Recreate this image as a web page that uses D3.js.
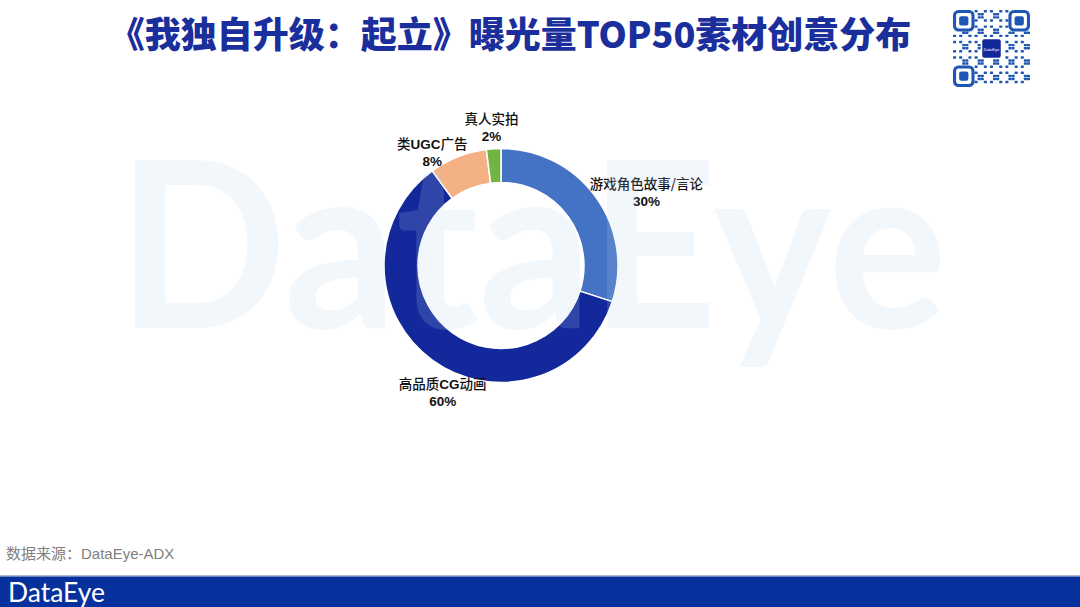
<!DOCTYPE html>
<html>
<head>
<meta charset="utf-8">
<title>曝光量TOP50素材创意分布</title>
<script src="https://cdn.jsdelivr.net/npm/d3@7/dist/d3.min.js"></script>
<style>
    body{
        margin:0;
        background:#fff;
        font-family:"Liberation Sans","Noto Sans CJK SC",sans-serif;
    }
    #chart{
        position:absolute;
        top:0px;
        left:0px;
    }
</style>
</head>
<body>
<div id="chart"></div>
<script>
    // data
    var categories = ["游戏角色故事/言论","高品质CG动画","类UGC广告","真人实拍"]
    var values = [30, 60, 8, 2]
    var colors = ["#4472c4","#13289a","#f4b183","#72b443"]
    // label nudges from the arc point (px)
    var labelShift = [[16,20],[24,12],[-21,6],[-1,-4]]
    var labelRadius = [160,140,130,136]

    var width = 1080
    var height = 607
    var svg = d3.select("#chart").append("svg").attr("width",width).attr("height",height)

    // title
    svg.append("text")
        .attr("x",510)
        .attr("y",48)
        .attr("text-anchor","middle")
        .attr("font-family","'Noto Sans CJK SC'")
        .attr("font-weight",900)
        .attr("font-size",36)
        .attr("fill","#1b2f9c")
        .text("《我独自升级：起立》曝光量TOP50素材创意分布")

    // donut
    var cx = 501, cy = 265.5
    var outerR = 117, innerR = 83
    var pie = d3.pie().sort(null).value(function(d){ return d.value })
    var data = categories.map(function(c,i){ return {name:c, value:values[i], i:i} })
    var arcs = pie(data)
    var arc = d3.arc().innerRadius(innerR).outerRadius(outerR)

    var g = svg.append("g").attr("transform","translate("+cx+","+cy+")")
    g.selectAll(".slice")
        .data(arcs)
        .enter().append("path")
        .attr("class","slice")
        .attr("d",arc)
        .attr("fill",function(d){ return colors[d.data.i] })
        .attr("stroke","#fff")
        .attr("stroke-width",1.5)

    // labels: Latin in bold, CJK lighter
    var lab = g.selectAll(".lab")
        .data(arcs)
        .enter().append("g")
        .attr("class","lab")
        .attr("transform",function(d,i){
            var a = (d.startAngle+d.endAngle)/2
            var r = labelRadius[i]
            var x = Math.sin(a)*r + labelShift[i][0]
            var y = -Math.cos(a)*r + labelShift[i][1]
            return "translate("+x+","+y+")"
        })
    lab.each(function(d){
        var t = d3.select(this).append("text")
            .attr("text-anchor","middle")
            .attr("y",-2)
            .attr("font-size",13.5)
            .attr("fill","#111")
        var parts = d.data.name.match(/[A-Za-z0-9\/]+|[^A-Za-z0-9\/]+/g)
        parts.forEach(function(p){
            var latin = /^[A-Za-z0-9]+$/.test(p)
            t.append("tspan")
                .attr("font-family", latin ? "'Liberation Sans'" : "'Noto Sans CJK SC'")
                .attr("font-weight", latin ? "bold" : 500)
                .text(p)
        })
        d3.select(this).append("text")
            .attr("text-anchor","middle")
            .attr("y",15)
            .attr("font-size",13.5)
            .attr("font-weight","bold")
            .attr("font-family","'Liberation Sans'")
            .attr("fill","#111")
            .text(d.data.value+"%")
    })

    // watermark on top
    svg.append("text")
        .attr("x",117)
        .attr("y",328)
        .attr("font-family","Lato")
        .attr("font-weight","bold")
        .attr("font-size",232)
        .attr("textLength",830)
        .attr("lengthAdjust","spacingAndGlyphs")
        .attr("fill","rgb(185,210,240)")
        .attr("opacity",0.17)
        .text("DataEye")

    // source
    svg.append("text")
        .attr("x",6)
        .attr("y",559)
        .attr("font-size",15)
        .attr("fill","#808080")
        .text("数据来源：DataEye-ADX")

    // bottom bar
    svg.append("rect").attr("x",0).attr("y",575).attr("width",width).attr("height",1.5).attr("fill","#aab6d4")
    svg.append("rect").attr("x",0).attr("y",576.5).attr("width",width).attr("height",height-576.5).attr("fill","#06309b")
    svg.append("text")
        .attr("x",8)
        .attr("y",602)
        .attr("font-family","Lato")
        .attr("font-size",27)
        .attr("textLength",97)
        .attr("lengthAdjust","spacingAndGlyphs")
        .attr("fill","#fff")
        .text("DataEye")

    // qr-like badge
    var qx = 953, qy = 10, n = 25, m = 77/25
    var qr = svg.append("g").attr("fill","#1d56b3")
    function finder(i,j){ return (i<7&&j<7)||(i<7&&j>=n-7)||(i>=n-7&&j<7) }
    for(var i=0;i<n;i++){
        for(var j=0;j<n;j++){
            if(finder(i,j)) continue
            if(i>=9&&i<=15&&j>=9&&j<=15) continue
            if(((i*7+j*13+i*j*3)%5)<2){
                qr.append("rect").attr("x",qx+j*m).attr("y",qy+i*m).attr("width",m).attr("height",m*0.8).attr("rx",0.6)
            }
        }
    }
    ;[[0,0],[0,n-7],[n-7,0]].forEach(function(p){
        var x0 = qx+p[1]*m, y0 = qy+p[0]*m
        qr.append("rect").attr("x",x0+m/2).attr("y",y0+m/2).attr("width",6*m).attr("height",6*m)
            .attr("rx",4).attr("fill","none").attr("stroke","#1d56b3").attr("stroke-width",m)
        qr.append("rect").attr("x",x0+2*m).attr("y",y0+2*m).attr("width",3*m).attr("height",3*m).attr("rx",2)
    })
    qr.append("rect").attr("x",qx+9.5*m).attr("y",qy+9.5*m).attr("width",6*m).attr("height",6*m).attr("rx",2).attr("fill","#12289a")
    qr.append("text").attr("x",qx+12.5*m).attr("y",qy+12.5*m+2).attr("text-anchor","middle")
        .attr("font-size",4).attr("fill","#fff").text("DataEye")
</script>
</body>
</html>
